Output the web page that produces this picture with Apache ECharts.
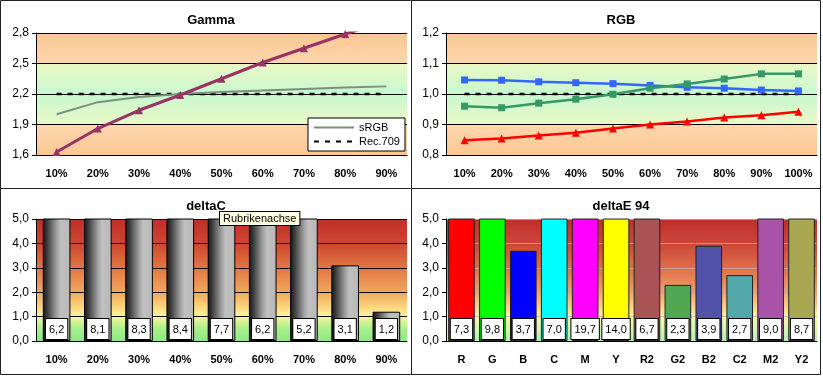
<!DOCTYPE html>
<html>
<head>
<meta charset="utf-8">
<script src="https://cdn.jsdelivr.net/npm/echarts@6/dist/echarts.min.js"></script>
<style>
html, body { margin: 0; padding: 0; background: #fff; }
#chart { width: 823px; height: 377px; }
</style>
</head>
<body>
<div id="chart"></div>
<script>
// --- data ---
const gammaSteps = ['10%', '20%', '30%', '40%', '50%', '60%', '70%', '80%', '90%'];
const gammaMeasured = [1.63, 1.86, 2.04, 2.19, 2.35, 2.51, 2.65, 2.79, 2.92];
const gammaSRGB = [2.00, 2.12, 2.17, 2.20, 2.22, 2.235, 2.25, 2.265, 2.275];
const gammaRec709 = [2.2, 2.2, 2.2, 2.2, 2.2, 2.2, 2.2, 2.2, 2.2];
const gammaTicks = [1.6, 2.8, 0.3];

const rgbSteps = ['10%', '20%', '30%', '40%', '50%', '60%', '70%', '80%', '90%', '100%'];
const rgbBlue = [1.046, 1.045, 1.040, 1.037, 1.034, 1.028, 1.022, 1.019, 1.013, 1.010];
const rgbGreen = [0.960, 0.955, 0.970, 0.983, 0.999, 1.019, 1.033, 1.049, 1.066, 1.066];
const rgbRed = [0.848, 0.854, 0.864, 0.873, 0.887, 0.900, 0.910, 0.923, 0.930, 0.942];
const rgbTarget = [1.0, 1.0, 1.0, 1.0, 1.0, 1.0, 1.0, 1.0, 1.0, 1.0];
const rgbTicks = [0.8, 1.2, 0.1];

const deltaCSteps = ['10%', '20%', '30%', '40%', '50%', '60%', '70%', '80%', '90%'];
const deltaCValues = [6.2, 8.1, 8.3, 8.4, 7.7, 6.2, 5.2, 3.1, 1.2];

const deltaENames = ['R', 'G', 'B', 'C', 'M', 'Y', 'R2', 'G2', 'B2', 'C2', 'M2', 'Y2'];
const deltaEValues = [7.3, 9.8, 3.7, 7.0, 19.7, 14.0, 6.7, 2.3, 3.9, 2.7, 9.0, 8.7];
const deltaTicks = [0, 5, 1];

const deltaEColors = ['#ff0000', '#00ff00', '#0000ff', '#00ffff', '#ff00ff', '#ffff00',
    '#a85454', '#52a852', '#5252a8', '#52a8a8', '#a852a8', '#a8a852'];

const FONT = '"Liberation Sans", Arial, sans-serif';
const LG = echarts.graphic.LinearGradient;

function comma(v) {
    return v.toFixed(1).replace('.', ',');
}

function bandGradient() {
    return new LG(0, 0, 0, 1, [
        { offset: 0, color: '#fbc692' },
        { offset: 0.245, color: '#fdd7ae' },
        { offset: 0.255, color: '#eaf8c6' },
        { offset: 0.5, color: '#c8f8cf' },
        { offset: 0.745, color: '#eaf8c6' },
        { offset: 0.755, color: '#fdd7ae' },
        { offset: 1, color: '#fbc692' }
    ]);
}

function heatGradient(faded) {
    return new LG(0, 0, 0, 1, [
        { offset: 0, color: '#c02e2a' },
        { offset: 0.2, color: faded ? '#cb4638' : '#cd4631' },
        { offset: 0.4, color: faded ? '#de6e4a' : '#e07744' },
        { offset: 0.6, color: faded ? '#f2a068' : '#f1a75c' },
        { offset: 0.72, color: faded ? '#fcd088' : '#fcd57e' },
        { offset: 0.8, color: faded ? '#fff4a8' : '#f9f59c' },
        { offset: 0.9, color: faded ? '#d6f6b0' : '#a8f08a' },
        { offset: 1, color: faded ? '#b8eeb0' : '#8ee68a' }
    ]);
}

function makeGrid(left, top, bg) {
    return {
        left: left, top: top, width: 371, height: 122,
        show: true, borderWidth: 0, backgroundColor: bg
    };
}

function makeXAxis(idx, cats) {
    return {
        type: 'category', gridIndex: idx, data: cats, boundaryGap: true,
        axisLine: { lineStyle: { color: '#000', width: 1 } },
        axisTick: { length: 4, lineStyle: { color: '#000' } },
        axisLabel: { interval: 0, margin: 13, color: '#000', fontFamily: FONT, fontWeight: 'bold', fontSize: 11 },
        splitLine: { show: false }
    };
}

function makeYAxis(idx, ticks, gridColor) {
    return {
        type: 'value', gridIndex: idx, min: ticks[0], max: ticks[1], interval: ticks[2],
        axisLine: { show: true, lineStyle: { color: '#000', width: 1 } },
        axisTick: { show: true, length: 4, lineStyle: { color: '#000' } },
        axisLabel: { margin: 7, color: '#000', fontFamily: FONT, fontSize: 12, formatter: comma },
        splitLine: { show: true, lineStyle: { color: gridColor, width: 1 } }
    };
}

const barLabel = {
    show: true, position: 'insideBottom', distance: 2,
    color: '#000', fontFamily: FONT, fontSize: 11,
    backgroundColor: '#fff', borderColor: '#000', borderWidth: 1,
    padding: [5, 3, 4, 3],
    formatter: (p) => comma(p.value)
};

function titleAt(text, x, y) {
    return {
        text: text, left: x, top: y, textAlign: 'center',
        textStyle: { fontFamily: FONT, fontSize: 13, fontWeight: 'bold', color: '#000' }
    };
}

let myChart = echarts.init(document.getElementById('chart'), null, { renderer: 'canvas' });

let option = {
    animation: false,
    backgroundColor: '#fff',
    title: [
        titleAt('Gamma', 206, 9),
        titleAt('RGB', 616, 9),
        titleAt('deltaC', 201, 195),
        titleAt('deltaE 94', 616, 195)
    ],
    legend: {
        data: ['sRGB', 'Rec.709'],
        orient: 'vertical', left: 308, top: 118,
        backgroundColor: '#fff', borderColor: '#000', borderWidth: 1,
        padding: [4, 5], itemGap: 3, itemWidth: 40, itemHeight: 12,
        itemStyle: { opacity: 0 },
        textStyle: { fontFamily: FONT, fontSize: 11, color: '#000' }
    },
    grid: [
        makeGrid(36, 33, bandGradient()),
        makeGrid(446, 33, bandGradient()),
        makeGrid(36, 219, heatGradient(false)),
        makeGrid(446, 219, heatGradient(true))
    ],
    xAxis: [
        makeXAxis(0, gammaSteps),
        makeXAxis(1, rgbSteps),
        makeXAxis(2, deltaCSteps),
        makeXAxis(3, deltaENames)
    ],
    yAxis: [
        makeYAxis(0, gammaTicks, '#000'),
        makeYAxis(1, rgbTicks, '#000'),
        makeYAxis(2, deltaTicks, '#000'),
        makeYAxis(3, deltaTicks, 'rgba(190,170,170,0.8)')
    ],
    series: [
        {
            name: 'Rec.709', type: 'line', xAxisIndex: 0, yAxisIndex: 0, data: gammaRec709,
            symbol: 'none', lineStyle: { color: '#000', width: 2.5, type: [5, 6] }, itemStyle: { color: '#000' }, z: 3
        },
        {
            name: 'sRGB', type: 'line', xAxisIndex: 0, yAxisIndex: 0, data: gammaSRGB,
            symbol: 'none', lineStyle: { color: '#7e8e7e', width: 2 }, itemStyle: { color: '#7e8e7e' }, z: 4
        },
        {
            name: 'Gamma', type: 'line', xAxisIndex: 0, yAxisIndex: 0, data: gammaMeasured,
            symbol: 'triangle', symbolSize: 8, clip: true,
            lineStyle: { color: '#993366', width: 3 }, itemStyle: { color: '#993366' }, z: 5
        },
        {
            name: 'Ziel', type: 'line', xAxisIndex: 1, yAxisIndex: 1, data: rgbTarget,
            symbol: 'none', lineStyle: { color: '#000', width: 2.5, type: [5, 6] }, z: 3
        },
        {
            name: 'Blau', type: 'line', xAxisIndex: 1, yAxisIndex: 1, data: rgbBlue,
            symbol: 'rect', symbolSize: 7, lineStyle: { color: '#3366ff', width: 2.5 }, itemStyle: { color: '#3366ff' }, z: 4
        },
        {
            name: 'Grün', type: 'line', xAxisIndex: 1, yAxisIndex: 1, data: rgbGreen,
            symbol: 'rect', symbolSize: 7, lineStyle: { color: '#339966', width: 2.5 }, itemStyle: { color: '#339966' }, z: 4
        },
        {
            name: 'Rot', type: 'line', xAxisIndex: 1, yAxisIndex: 1, data: rgbRed,
            symbol: 'triangle', symbolSize: 8, lineStyle: { color: '#ff0000', width: 2.5 }, itemStyle: { color: '#ff0000' }, z: 4
        },
        {
            name: 'deltaC', type: 'bar', xAxisIndex: 2, yAxisIndex: 2, data: deltaCValues,
            barCategoryGap: '33%',
            itemStyle: {
                borderColor: '#000', borderWidth: 1,
                color: new LG(0, 0, 1, 0, [
                    { offset: 0, color: '#161616' },
                    { offset: 0.15, color: '#3a3a3a' },
                    { offset: 0.5, color: '#a0a0a0' },
                    { offset: 0.65, color: '#c0c0c0' },
                    { offset: 1, color: '#b8b8b8' }
                ])
            },
            label: barLabel
        },
        {
            name: 'deltaE 94', type: 'bar', xAxisIndex: 3, yAxisIndex: 3,
            data: deltaEValues.map((v, i) => ({ value: v, itemStyle: { color: deltaEColors[i] } })),
            barCategoryGap: '14%',
            itemStyle: { borderColor: '#222', borderWidth: 1 },
            label: barLabel
        }
    ],
    graphic: [
        { type: 'rect', silent: true, z: 50, shape: { x: 0.5, y: 0.5, width: 820, height: 374 }, style: { fill: 'none', stroke: '#222', lineWidth: 1 } },
        { type: 'line', silent: true, z: 50, shape: { x1: 411.5, y1: 0.5, x2: 411.5, y2: 374.5 }, style: { stroke: '#222', lineWidth: 1 } },
        { type: 'line', silent: true, z: 50, shape: { x1: 0.5, y1: 188.5, x2: 820.5, y2: 188.5 }, style: { stroke: '#222', lineWidth: 1 } },
        {
            type: 'text', silent: true, z: 60, x: 220, y: 212,
            style: {
                text: 'Rubrikenachse', font: '11px ' + FONT, fill: '#000',
                backgroundColor: '#ffffe1', borderColor: '#000', borderWidth: 1, padding: [1, 3]
            }
        }
    ]
};

option && myChart.setOption(option);
</script>
</body>
</html>
